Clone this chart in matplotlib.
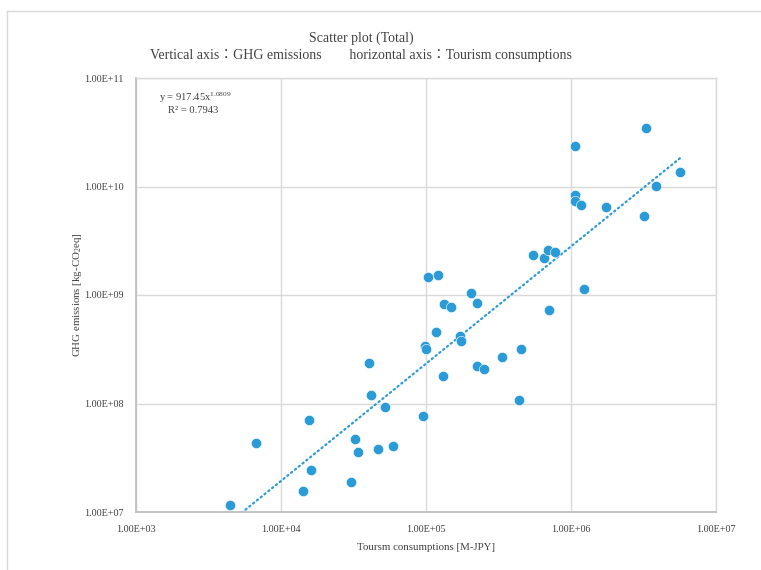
import numpy as np
import matplotlib.pyplot as plt
from matplotlib.lines import Line2D
from matplotlib.ticker import FixedLocator, FuncFormatter

# tourism consumption [M-JPY] and GHG emissions [kg-CO2eq]
tourism = [4470, 6760, 14100, 15500, 16000, 30200, 32300, 33800, 40300, 41600,
           46600, 52000, 59100, 95300, 98400, 100000, 103000, 121000, 117000, 131000,
           133000, 149000, 172000, 175000, 205000, 225000, 225000, 252000, 336000, 440000,
           454000, 550000, 655000, 699000, 780000, 700000, 1070000, 1070000, 1060000, 1180000,
           1220000, 1730000, 3180000, 3280000, 3850000, 5630000]
ghg = [1.16e7, 4.3e7, 1.56e7, 7.1e7, 2.45e7, 1.9e7, 4.7e7, 3.6e7, 2.34e8, 1.21e8,
       3.8e7, 9.2e7, 4.1e7, 7.6e7, 3.4e8, 3.2e8, 1.47e9, 1.53e9, 4.6e8, 1.78e8,
       8.3e8, 7.7e8, 4.2e8, 3.8e8, 1.04e9, 8.4e8, 2.2e8, 2.1e8, 2.7e8, 1.07e8,
       3.2e8, 2.35e9, 2.2e9, 2.6e9, 2.5e9, 7.3e8, 2.35e10, 8.4e9, 7.3e9, 6.8e9,
       1.14e9, 6.5e9, 5.4e9, 3.44e10, 1.02e10, 1.35e10]

# power trendline shown on the chart
coef_a = 917.45
coef_b = 1.0809
r2 = 0.7943

x_ticks = [1e3, 1e4, 1e5, 1e6, 1e7]
y_ticks = [1e7, 1e8, 1e9, 1e10, 1e11]

plt.rcParams['font.family'] = ['Liberation Serif', 'Noto Sans CJK JP']
plt.rcParams['mathtext.fontset'] = 'custom'
plt.rcParams['mathtext.rm'] = 'Liberation Serif'
plt.rcParams['mathtext.it'] = 'Liberation Serif:italic'

blue = '#2A9BD7'
grid_c = '#d9d9d9'
spine_c = '#bfbfbf'
text_c = '#404040'

fig = plt.figure(figsize=(7.61, 5.70), dpi=100)
ax = fig.add_axes([136 / 761, 1 - 512 / 570, 580 / 761, 434 / 570])

ax.set_xscale('log')
ax.set_yscale('log')
ax.set_xlim(x_ticks[0], x_ticks[-1])
ax.set_ylim(y_ticks[0], y_ticks[-1])

ax.xaxis.set_major_locator(FixedLocator(x_ticks))
ax.yaxis.set_major_locator(FixedLocator(y_ticks))
ax.xaxis.set_minor_locator(FixedLocator([]))
ax.yaxis.set_minor_locator(FixedLocator([]))
fmt = FuncFormatter(lambda v, pos: '%.2fE+%02d' % (v / 10 ** np.floor(np.log10(v)), int(np.floor(np.log10(v)))))
ax.xaxis.set_major_formatter(fmt)
ax.yaxis.set_major_formatter(fmt)
ax.tick_params(length=0, labelsize=7.3, colors=text_c)
ax.tick_params(axis='y', pad=9)
ax.tick_params(axis='x', pad=9)

ax.grid(True, color=grid_c, lw=1.0)
ax.set_axisbelow(True)
for side in ['top', 'right']:
    ax.spines[side].set_color(grid_c)
    ax.spines[side].set_linewidth(1.0)
for side in ['left', 'bottom']:
    ax.spines[side].set_color(spine_c)
    ax.spines[side].set_linewidth(1.3)

# trendline over the data range
tx = np.geomspace(min(tourism), max(tourism), 200)
ax.plot(tx, coef_a * tx ** coef_b, color=blue, lw=1.6, ls=(0, (0.6, 1.6)),
        dash_capstyle='round', zorder=2)

ax.scatter(tourism, ghg, s=55, color=blue, edgecolors='white', linewidths=0.4,
           zorder=3, clip_on=False)

ax.text(0.04, 0.955, r'y = %.2fx$^{%.4f}$' % (coef_a, coef_b), transform=ax.transAxes,
        fontsize=7.6, color=text_c, va='center', ha='left')
ax.text(0.055, 0.925, 'R² = %.4f' % r2, transform=ax.transAxes,
        fontsize=7.6, color=text_c, va='center', ha='left')

ax.set_xlabel('Toursm consumptions [M-JPY]', fontsize=7.8, color=text_c, labelpad=7)
ax.set_ylabel(r'GHG emissions [kg-CO$_2$eq]', fontsize=7.8, color=text_c, labelpad=0)

fig.text(361 / 761, 1 - 38 / 570, 'Scatter plot (Total)', ha='center', va='center',
         fontsize=10, color=text_c)
fig.text(361 / 761, 1 - 56 / 570,
         'Vertical axis：GHG emissions\u3000\u3000horizontal axis：Tourism consumptions',
         ha='center', va='center', fontsize=10, color=text_c)

# outer chart frame
fig.add_artist(Line2D([7 / 761, 7 / 761], [0, 1 - 11 / 570], color=grid_c, lw=1.0))
fig.add_artist(Line2D([7 / 761, 1], [1 - 11 / 570, 1 - 11 / 570], color=grid_c, lw=1.0))

fig.savefig('out.png', dpi=100)
